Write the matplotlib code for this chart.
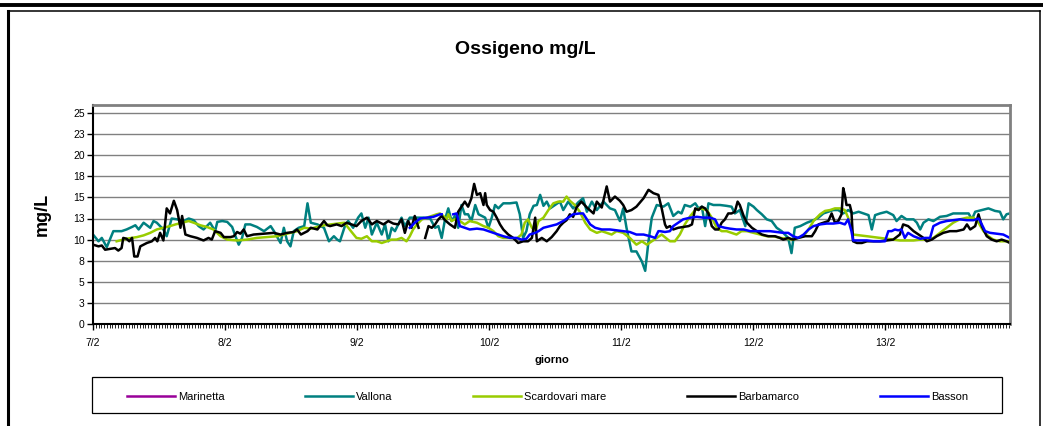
import numpy as np
import matplotlib.pyplot as plt
from matplotlib.lines import Line2D
from matplotlib.patches import Rectangle
from matplotlib.ticker import MultipleLocator

plt.rcParams['font.family'] = ['Liberation Sans', 'DejaVu Sans']

W, H = 1043, 426

day_labels = ['7/2', '8/2', '9/2', '10/2', '11/2', '12/2', '13/2']
y_ticks = [0, 2.5, 5, 7.5, 10, 12.5, 15, 17.5, 20, 22.5, 25]

# ore a partire dal 7/2 00:00 (nan = buco nei dati)
marinetta_h = []
marinetta_v = []

vallona_h = [0, 1.0, 1.6, 2.5, 3.7, 5.2, 6.1, 7.1, 7.7, 8.3, 9.2, 10.4, 11.0, 11.6, 12.8, 13.4,
             14.3, 15.3, 16.5, 17.4, 18.3, 19.2, 20.1, 20.7, 21.3, 22.2, 22.6, 23.5, 24.4, 25.3,
             25.9, 26.5, 27.1, 27.7, 28.6, 29.8, 31.1, 32.3, 32.9, 34.1, 34.7, 35.3, 35.9, 36.5,
             37.4, 38.4, 39.0, 39.6, 40.8, 42.0, 42.9,
             43.8, 44.4, 44.9, 45.8, 46.4, 47.3, 48.2, 48.8, 49.5, 50.1, 50.7, 51.6, 52.5, 53.1,
             53.7, 54.3, 54.9, 55.5, 56.1, 56.7, 57.6, 58.8, 60.1, 61.3, 62.2, 62.8, 63.4, 64.0,
             64.6, 65.2, 65.8, 66.4, 67.0, 67.6, 68.2, 68.8, 69.5, 70.1, 70.7, 71.3, 71.9, 72.5,
             73.1, 73.7, 74.6, 75.8, 77.0, 77.6, 78.2, 78.8, 79.4, 80.1, 80.7, 81.3, 81.9, 82.5,
             83.1, 84.0, 84.9, 85.5, 86.4, 87.3, 88.2, 89.1, 89.8, 90.7, 91.6, 92.8, 94.0, 94.9,
             95.8, 96.4, 97.0, 97.9, 98.8, 99.8, 100.4, 101.0, 101.6, 102.5,
             103.7, 104.6, 105.5, 106.4, 107.0, 107.6, 108.6, 109.5, 110.1, 110.7, 111.3, 111.9,
             112.8, 114.0, 115.2, 116.1, 116.7, 117.6, 118.6, 119.2, 120.1, 120.7, 121.6, 122.5,
             123.4, 124.3, 125.2, 126.4, 127.0, 127.6, 128.6, 129.8, 131.0, 131.9, 132.8, 133.7,
             134.6, 135.5, 136.4, 137.3, 138.2, 139.2, 140.1, 141.0, 141.6, 142.2, 143.1, 144.3,
             145.5, 146.1, 147.0, 147.9, 149.2, 149.8, 150.4, 151.0, 151.9, 152.8, 154.0, 155.2,
             156.4, 157.6, 159.2, 159.8, 160.4, 161.6, 162.8, 164.0, 164.9, 165.5, 166.1, 166.7]
vallona_v = [10.6, 9.8, 10.2, 9.1, 11.0, 11.0, 11.2, 11.5, 11.7, 11.2, 12.0, 11.4, 12.2, 12.0, 11.2, 10.4,
             12.5, 12.4, 12.2, 12.5, 12.3, 11.6, 11.2, 11.6, 12.0, 11.0, 12.1, 12.2, 12.1, 11.5,
             10.4, 9.4, 10.2, 11.8, 11.8, 11.5, 11.0, 11.6, 11.0, 9.6, 11.4, 9.8, 9.2, 11.0,
             11.4, 11.6, 14.3, 12.0, 11.8, 11.4, 9.8,
             10.4, 10.0, 9.8, 11.6, 12.2, 11.4, 12.6, 13.1, 11.4, 12.6, 10.6, 12.0, 10.6, 11.8,
             9.8, 11.4, 11.0, 11.8, 12.6, 11.6, 12.6, 12.6, 12.6, 12.5, 11.4, 11.6, 10.2, 12.4,
             13.7, 12.2, 12.8, 11.4, 14.1, 13.0, 13.0, 12.2, 14.1, 13.0, 12.8, 12.6, 11.4, 12.6,
             14.1, 13.7, 14.3, 14.3, 14.4, 13.0, 10.2, 11.0, 13.0, 14.0, 14.1, 15.3, 14.0, 14.5,
             13.7, 14.1, 14.5, 13.5, 14.5, 13.7, 14.4, 14.9, 13.3, 14.5, 13.5, 14.5, 13.7, 13.5,
             12.2, 13.7, 11.4, 8.6, 8.6, 7.4, 6.3, 9.8, 12.6, 14.1,
             13.9, 14.3, 12.8, 13.3, 13.1, 14.1, 13.9, 14.3, 13.7, 13.9, 11.6, 14.3,
             14.1, 14.1, 14.0, 13.9, 13.1, 13.5, 11.6, 14.3, 13.9, 13.5, 13.0, 12.4,
             12.2, 11.4, 11.0, 10.2, 8.4, 11.4, 11.6, 12.0, 12.3, 12.6, 13.1, 13.3,
             13.5, 13.5, 13.1, 13.5, 13.1, 13.3, 13.1, 12.9, 11.2, 12.9, 13.1, 13.3,
             12.9, 12.2, 12.8, 12.4, 12.4, 12.0, 11.2, 12.0, 12.4, 12.2, 12.7, 12.8,
             13.1, 13.1, 13.1, 12.4, 13.3, 13.5, 13.7, 13.4, 13.3, 12.4, 13.0, 13.1]

scardovari_h = [4.3, 6.1, 8.0, 9.2, 10.4, 11.6, 12.8, 14.0, 15.0, 16.2, 17.4, 18.3, 19.5, 20.7,
                21.9, 23.2, 24.4, 26.2, 28.0, 29.8, 31.7, 33.5, 34.7, 35.9, 37.1, 38.4, 39.6,
                40.8, 42.0, 43.2, 44.4, 45.7, 46.9, 47.9,
                48.8, 49.8, 50.7, 51.6, 52.5, 53.4, 54.3, 55.2, 56.1, 57.0, 57.6, 58.2, 58.9,
                59.8, 60.7, 61.6, 62.5, 63.1, 63.7, 64.3, 64.6, 65.2, 65.8, 66.7, 67.6, 68.5,
                69.8, 71.0, 71.9, 72.8, 73.7, 74.6, 75.8, 77.0, 77.9, 78.5, 79.1, 79.8, 80.4,
                81.0, 81.9, 82.8, 83.7, 84.6, 85.5, 86.1, 86.7, 87.6, 88.5, 89.5, 90.4, 91.6,
                92.5, 93.4, 94.3, 95.2, 96.4, 97.6, 98.2, 98.8, 99.8, 100.7, 101.6, 102.5,
                103.4, 104.9, 105.8, 106.7, 107.6, 108.6, 109.5, 110.4, 111.6, 112.5, 113.4,
                114.3, 115.2, 116.1, 117.0, 117.9, 118.9, 120.1, 121.3, 122.5, 123.7, 124.9,
                126.1, 127.3, 128.2, 129.2, 130.1, 131.0, 132.2, 133.1, 134.0, 134.9, 135.8,
                136.7, 137.3, 138.2, 139.5, 140.7, 141.9, 143.1, 144.3, 145.5, 146.7, 149.2,
                150.4, 151.6, 152.8, 154.0, 155.2, 156.4, 157.6, 158.9, 160.1, 161.0, 161.9,
                162.8, 163.7, 164.9, 166.7]
scardovari_v = [9.8, 10.1, 10.3, 10.5, 10.8, 11.2, 11.4, 11.6, 11.8, 12.0, 12.2, 12.0, 11.7, 11.5,
                11.2, 10.4, 10.0, 9.9, 10.0, 10.2, 10.3, 10.4, 10.6, 10.8, 11.0, 11.4, 11.3,
                11.5, 11.7, 11.8, 11.9, 12.0, 11.0, 10.2,
                10.1, 10.4, 9.8, 9.8, 9.6, 9.8, 10.0, 10.0, 10.2, 9.8, 10.4, 11.2, 11.8,
                12.4, 12.6, 12.8, 13.0, 13.1, 12.8, 12.4, 13.0, 12.2, 12.4, 12.2, 11.8, 12.2,
                12.0, 11.6, 11.4, 11.0, 10.4, 10.2, 10.2, 10.1, 10.6, 12.0, 12.4, 11.4, 11.0,
                12.2, 12.6, 13.5, 14.3, 14.5, 14.5, 15.1, 14.6, 14.1, 13.3, 12.0, 11.2, 10.8,
                11.0, 10.8, 10.6, 11.0, 10.8, 10.2, 9.8, 9.4, 9.8, 9.4, 9.8, 10.2,
                10.6, 9.8, 9.8, 10.6, 11.8, 12.8, 13.5, 13.7, 13.5, 12.6, 11.4,
                11.0, 11.0, 10.8, 10.6, 11.0, 11.0, 10.8, 10.6, 10.4, 10.4, 10.2,
                10.1, 10.0, 10.2, 10.4, 11.2, 12.2, 13.0, 13.4, 13.5, 13.7, 13.7,
                13.5, 12.6, 10.6, 10.5, 10.4, 10.3, 10.2, 10.1, 10.0, 9.9, 9.9,
                10.0, 10.0, 10.2, 10.8, 11.4, 12.0, 12.4, 12.6, 12.6, 12.0, 11.0,
                10.4, 10.0, 9.8, 9.8]

barbamarco_h = [0, 1.0, 1.6, 2.2, 3.1, 4.0, 4.6, 5.2, 5.5, 6.1, 6.6, 7.1, 7.5, 8.1, 8.6, 9.8,
                10.7, 11.3, 11.7, 12.2, 12.8, 13.4, 14.0, 14.7, 15.3, 15.9, 16.2, 16.8, 17.7,
                18.9, 20.1, 21.0, 21.6, 22.2, 23.2, 23.8, 25.0, 25.6, 26.2, 26.8, 27.4, 28.0,
                29.2, 31.1, 32.9, 34.1, 35.3, 36.5, 37.1, 37.8, 39.0, 39.6, 40.8, 42.0, 42.6,
                43.1, 44.3, 45.2, 46.1, 47.0, 47.9, 48.8, 49.8, 50.7, 51.6, 52.8, 53.7, 54.6,
                55.5, 56.1, 56.7, 57.3, 57.9, 58.5, 59.2, 59.8,
                60.4, 61.0, 61.6, 62.2, 62.8, 63.4, 64.0, 64.9, 65.8, 66.4, 67.0, 67.6, 68.2,
                68.8, 69.3, 69.8, 70.4, 71.0, 71.3, 71.6, 72.2, 72.8, 73.4, 74.0, 74.6, 75.5,
                76.4, 77.3, 78.2, 79.1, 79.8, 80.4, 80.7, 81.6, 82.5, 83.4, 84.3, 84.9, 85.5,
                86.1, 86.7, 87.3, 87.9, 88.8, 89.8, 91.0, 91.6, 92.5, 93.4, 94.0, 94.9, 95.8,
                96.4, 97.0, 97.9, 98.8, 100.1, 101.0, 101.9, 102.8, 103.4, 104.0,
                104.3, 104.9, 105.5, 106.4, 107.3, 108.3, 108.9, 109.5, 110.1, 110.7, 111.3,
                111.9, 112.5, 113.1, 113.7, 114.3, 114.9, 115.5, 116.1, 116.7, 117.2, 117.6,
                118.3, 118.9, 119.8, 120.7, 121.6, 122.8, 124.0, 124.9, 125.5, 126.4, 127.3,
                128.2, 129.5, 130.7, 131.3, 131.9, 132.8, 133.7, 134.3, 134.9, 135.5, 136.1,
                136.4, 136.7, 137.0, 137.6, 137.9, 138.2, 138.9, 139.8, 140.7, 141.9, 143.1,
                144.3, 145.5, 146.7, 147.3, 148.2, 149.2, 150.1, 151.0, 151.6, 152.5, 153.4,
                154.6, 155.8, 157.0, 158.3, 158.9, 159.5, 160.4, 161.0, 161.6, 162.5, 163.4,
                164.3, 165.2, 166.1, 166.7]
barbamarco_v = [9.4, 9.2, 9.3, 8.8, 8.9, 9.0, 8.7, 9.0, 10.2, 10.1, 9.8, 10.2, 8.0, 8.0, 9.2, 9.6,
                9.8, 10.2, 9.8, 10.8, 9.9, 13.7, 13.1, 14.6, 13.5, 11.4, 12.8, 10.6, 10.4,
                10.2, 9.9, 10.2, 10.0, 11.0, 10.8, 10.3, 10.3, 10.4, 10.9, 10.7, 11.2, 10.4,
                10.6, 10.7, 10.8, 10.6, 10.8, 10.9, 11.2, 10.6, 11.0, 11.4, 11.2, 12.2, 11.7,
                11.6, 11.8, 11.6, 12.0, 11.8, 11.6, 12.2, 12.6, 11.8, 12.2, 11.8, 12.2, 11.9,
                11.8, 12.4, 10.8, 12.2, 11.4, 12.8, 11.4, np.nan,
                10.2, 11.6, 11.4, 11.8, 12.4, 12.8, 12.3, 11.8, 11.4, 13.3, 13.9, 14.5, 13.9,
                14.9, 16.6, 15.3, 15.5, 14.1, 15.5, 14.1, 13.5, 13.3, 12.6, 11.8, 11.2, 10.6,
                10.2, 9.6, 9.8, 9.8, 10.2, 12.6, 9.8, 10.2, 9.8, 10.3, 11.0, 11.6, 12.0,
                12.3, 13.0, 12.7, 13.8, 14.5, 13.8, 13.1, 14.5, 13.8, 16.3, 14.5, 15.1, 14.6,
                14.1, 13.3, 13.5, 13.9, 14.9, 15.9, 15.5, 15.3, 13.7, 11.8,
                11.4, 11.6, 11.2, 11.4, 11.5, 11.6, 11.8, 13.7, 13.5, 13.9, 13.7,
                13.1, 11.6, 11.2, 11.2, 12.0, 12.4, 13.1, 13.1, 13.3, 14.5, 14.1,
                12.8, 12.0, 11.4, 11.0, 10.6, 10.4, 10.4, 10.2, 10.0, 10.2, 10.0,
                10.2, 10.4, 10.4, 11.0, 11.8, 12.0, 12.2, 13.1, 12.0, 12.2, 13.0,
                16.1, 15.3, 14.1, 14.1, 13.3, 9.8, 9.6, 9.6, 9.8, 9.8, 9.8,
                9.9, 10.0, 10.6, 11.8, 11.6, 11.0, 10.6, 10.2, 9.8, 10.0, 10.4,
                10.8, 11.0, 11.0, 11.2, 11.8, 11.2, 11.6, 13.0, 11.6, 10.4, 10.0,
                9.8, 10.0, 9.8, 9.6]

basson_h = [57.6, 58.5, 59.5, 60.7, 61.9, 63.1, 63.4, 64.5, 65.5, 66.1, 66.7, 67.6, 68.5, 69.8,
            71.0, 71.9, 72.8, 73.7, 74.6, 75.8, 77.0, 77.9, 78.8, 79.4, 80.4, 81.0, 81.9, 83.1,
            84.3, 85.5, 86.4, 87.3, 88.5, 89.1, 89.8, 90.4, 91.3, 92.5, 94.0, 95.2, 96.4, 97.6,
            98.8, 100.1, 101.3, 102.2, 102.8,
            103.1, 104.0, 104.9, 105.5, 106.4, 107.3, 108.6, 109.8, 111.0, 112.2, 113.1, 113.7,
            114.3, 114.9, 115.8, 117.0, 118.3, 119.5, 120.7, 121.9, 123.1, 124.3, 125.5, 126.4,
            127.3, 128.2, 129.2, 130.1, 131.0, 132.2, 133.4, 134.6, 135.8, 136.7, 137.3, 137.9,
            138.2, 139.5, 140.7, 141.9, 143.1, 144.0, 144.6, 145.2, 145.8, 146.4, 147.0, 147.6,
            148.2, 149.2, 150.4, 151.3, 152.2, 152.8, 154.0, 155.2, 156.4, 157.6, 158.9, 160.1,
            161.0, 161.3, 162.2, 163.1, 164.3, 165.5, 166.7]
basson_v = [11.4, 12.0, 12.5, 12.6, 12.7, 13.0, 13.0, np.nan, 13.0, 13.1, 11.6, 11.4, 11.2, 11.3,
            11.2, 11.0, 10.8, 10.6, 10.4, 10.2, 10.2, 10.0, 10.1, 10.6, 10.8, 11.0, 11.4, 11.6,
            11.8, 12.2, 12.6, 13.0, 13.1, 13.1, 12.4, 11.8, 11.4, 11.2, 11.2, 11.1, 11.0, 10.9,
            10.6, 10.6, 10.4, 10.2, 11.0,
            11.0, 10.9, 11.0, 11.6, 12.0, 12.4, 12.6, 12.7, 12.6, 12.6, 12.4, 11.6,
            11.5, 11.4, 11.3, 11.2, 11.2, 11.0, 11.0, 11.0, 11.0, 10.9, 10.8, 10.8,
            10.4, 10.2, 10.6, 11.2, 11.6, 11.8, 11.9, 11.9, 12.0, 11.8, 12.4, 11.0,
            9.9, 9.9, 9.9, 9.8, 9.8, 9.8, 11.0, 11.0, 11.2, 11.1, 11.2, 10.2,
            10.8, 10.4, 10.1, 10.2, 10.2, 11.6, 12.0, 12.2, 12.3, 12.4, 12.3, 12.3,
            12.5, 12.2, 11.0, 10.8, 10.7, 10.6, 10.2]

series = [
    ('Marinetta', marinetta_h, marinetta_v, '#990099'),
    ('Vallona', vallona_h, vallona_v, '#008080'),
    ('Scardovari mare', scardovari_h, scardovari_v, '#99CC00'),
    ('Barbamarco', barbamarco_h, barbamarco_v, '#000000'),
    ('Basson', basson_h, basson_v, '#0000FF'),
]

fig = plt.figure(figsize=(W / 100, H / 100), dpi=100)


def fx(px):
    return px / W


def fy(py):
    return 1 - py / H


# cornice esterna
fig.add_artist(Line2D([0, 1], [fy(5), fy(5)], color='black', lw=2.8, transform=fig.transFigure))
fig.add_artist(Line2D([fx(8), fx(1040)], [fy(11), fy(11)], color='black', lw=1.1, transform=fig.transFigure))
fig.add_artist(Line2D([fx(8), fx(8)], [fy(11), 0], color='black', lw=2.2, transform=fig.transFigure))
fig.add_artist(Line2D([fx(1040), fx(1040)], [fy(11), 0], color='black', lw=1.1, transform=fig.transFigure))

ax = fig.add_axes([fx(93), fy(324), fx(1010 - 93), (324 - 105) / H])

for name, h, v, col in series:
    ax.plot(h, v, color=col, lw=1.8, label=name)

x_max = (1010 - 93) / 132 * 24
ax.set_xlim(0, x_max)
ax.set_ylim(0, 25 * 219 / 211)

ax.set_xticks([24 * i for i in range(len(day_labels))])
ax.set_xticklabels(day_labels, fontsize=7.5)
ax.xaxis.set_minor_locator(MultipleLocator(0.5))
ax.set_yticks(y_ticks)
ax.set_yticklabels([str(int(t + 0.5)) for t in y_ticks], fontsize=7.5)

ax.tick_params(axis='x', which='major', direction='out', length=4, width=1, pad=6)
ax.tick_params(axis='x', which='minor', direction='out', length=3, width=0.6)
ax.tick_params(axis='y', direction='out', length=4, width=1, pad=2)

ax.yaxis.grid(True, color='#808080', lw=1)
ax.set_axisbelow(True)

for s in ['left', 'bottom']:
    ax.spines[s].set_color('black')
    ax.spines[s].set_linewidth(1.5)
for s in ['top', 'right']:
    ax.spines[s].set_color('#808080')
    ax.spines[s].set_linewidth(2)

ax.set_xlabel('giorno', fontsize=8, fontweight='bold', labelpad=5)
ax.set_ylabel('mg/L', fontsize=13, fontweight='bold', labelpad=16)

fig.text(fx(525), fy(49), 'Ossigeno mg/L', fontsize=14, fontweight='bold', ha='center', va='center')

# legenda
fig.add_artist(Rectangle((fx(92), fy(413)), fx(1002 - 92), (413 - 377) / H, fill=False,
                         edgecolor='black', lw=0.9, transform=fig.transFigure))
handles, labels = ax.get_legend_handles_labels()
fig.legend(handles, labels, loc='lower left', ncol=5, mode='expand', frameon=False,
           bbox_to_anchor=(fx(127), fy(402), fx(968 - 127), (402 - 388) / H),
           fontsize=8, handlelength=4.3, handletextpad=0.3, borderpad=0, borderaxespad=0)

fig.savefig('out.png', dpi=100)
